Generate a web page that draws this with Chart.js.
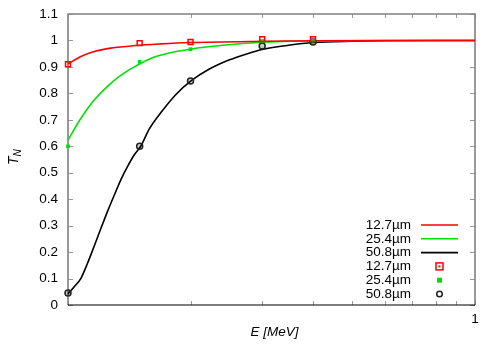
<!DOCTYPE html>
<html>
<head>
<meta charset="utf-8">
<script src="https://cdn.jsdelivr.net/npm/chart.js@4/dist/chart.umd.min.js"></script>
<style>
body { margin: 0; background: #fff; }
</style>
</head>
<body>
<canvas id="c" width="500" height="350"></canvas>
<script>
// measured points
var energies = [0.1, 0.15, 0.2, 0.3, 0.4];
var t127 = [0.91, 0.99, 0.994, 1.005, 1.005];
var t254 = [0.60, 0.919, 0.967, 0.998, 0.999];
var t508 = [0.045, 0.60, 0.847, 0.979, 0.994];

// fitted curves
var fitE127 = [0.1, 0.1076, 0.116, 0.1274, 0.1467, 0.169, 0.2, 0.3, 0.4, 0.6, 1.0];
var fit127 = [0.911, 0.939, 0.958, 0.971, 0.981, 0.987, 0.992, 0.997, 0.999, 1.0, 1.0];
var fitE254 = [0.1, 0.1076, 0.116, 0.1274, 0.14, 0.1467, 0.1643, 0.2, 0.2485, 0.3, 0.4, 0.6, 1.0];
var fit254 = [0.624, 0.706, 0.775, 0.838, 0.885, 0.903, 0.939, 0.967, 0.984, 0.993, 0.998, 1.0, 1.0];
var fitE508 = [0.1, 0.1036, 0.1076, 0.1117, 0.116, 0.1205, 0.125, 0.13, 0.135, 0.14, 0.1454, 0.151,
               0.1582, 0.1707, 0.1839, 0.2005, 0.222, 0.2485, 0.2783, 0.3, 0.3486, 0.4016, 0.5, 0.6, 0.8, 1.0];
var fit508 = [0.042, 0.069, 0.101, 0.158, 0.223, 0.29, 0.353, 0.416, 0.475, 0.523, 0.567, 0.601,
              0.664, 0.735, 0.795, 0.847, 0.891, 0.926, 0.952, 0.966, 0.982, 0.992, 0.997, 0.999, 1.0, 1.0];

var names = ['12.7µm', '25.4µm', '50.8µm'];
var colors = ['#ff0000', '#00e000', '#000000'];
var yTicks = [0, 0.1, 0.2, 0.3, 0.4, 0.5, 0.6, 0.7, 0.8, 0.9, 1.0, 1.1];
var xTicks = [0.1, 0.2, 0.3, 0.4, 0.5, 0.6, 0.7, 0.8, 0.9, 1];

var FONT = 'Liberation Sans, Arial, sans-serif';

function xy(xs, ys) {
    return xs.map(function(x, i) { return {x: x, y: ys[i]}; });
}

function curve(label, xs, ys, color) {
    return {
        label: label, data: xy(xs, ys), showLine: true,
        borderColor: color, borderWidth: 1.6, pointRadius: 0,
        cubicInterpolationMode: 'monotone', order: 2, clip: false
    };
}

var datasets = [
    curve(names[0], fitE127, fit127, colors[0]),
    curve(names[1], fitE254, fit254, colors[1]),
    curve(names[2], fitE508, fit508, colors[2]),
    { label: names[0], data: xy(energies, t127), showLine: false, pointStyle: 'rect',
      pointRadius: 3.5, borderWidth: 1.5, borderColor: colors[0], backgroundColor: 'rgba(255,255,255,0)',
      order: 1, clip: false },
    { label: names[1], data: xy(energies, t254), showLine: false, pointStyle: 'rect',
      pointRadius: 2.6, borderWidth: 0, borderColor: colors[1], backgroundColor: colors[1],
      order: 1, clip: false },
    { label: names[2], data: xy(energies, t508), showLine: false, pointStyle: 'circle',
      pointRadius: 3, borderWidth: 1.5, borderColor: '#222', backgroundColor: 'rgba(0,0,0,0.2)',
      order: 1, clip: false }
];

// gnuplot-like frame with inward ticks
var framePlugin = {
    id: 'frame',
    beforeDatasetsDraw: function(chart) {
        var ctx = chart.ctx, a = chart.chartArea;
        var xs = chart.scales.x, ys = chart.scales.y;
        ctx.save();
        ctx.strokeStyle = '#999';
        ctx.lineWidth = 1;
        yTicks.forEach(function(v) {
            var y = Math.round(ys.getPixelForValue(v)) + 0.5;
            ctx.beginPath();
            ctx.moveTo(a.left, y); ctx.lineTo(a.left + 5, y);
            ctx.moveTo(a.right, y); ctx.lineTo(a.right - 5, y);
            ctx.stroke();
        });
        xTicks.forEach(function(v) {
            var x = Math.round(xs.getPixelForValue(v)) + 0.5;
            ctx.beginPath();
            ctx.moveTo(x, a.top); ctx.lineTo(x, a.top + 4);
            ctx.moveTo(x, a.bottom); ctx.lineTo(x, a.bottom - 4);
            ctx.stroke();
        });
        ctx.strokeStyle = '#808080';
        ctx.lineWidth = 1.6;
        ctx.beginPath();
        ctx.moveTo(a.left, a.bottom); ctx.lineTo(a.left, a.top);
        ctx.lineTo(a.right, a.top); ctx.lineTo(a.right, a.bottom);
        ctx.stroke();
        ctx.strokeStyle = '#000';
        ctx.lineWidth = 1.2;
        ctx.beginPath();
        ctx.moveTo(a.left, a.bottom); ctx.lineTo(a.right, a.bottom);
        ctx.stroke();
        ctx.restore();
    },
    afterDraw: function(chart) {
        var ctx = chart.ctx, a = chart.chartArea;
        ctx.save();
        ctx.fillStyle = '#000';
        // axis titles
        ctx.font = 'italic 13.5px ' + FONT;
        ctx.textAlign = 'center';
        ctx.textBaseline = 'middle';
        ctx.fillText('E [MeV]', (a.left + a.right) / 2 + 3, 332);
        ctx.translate(14, 158);
        ctx.rotate(-Math.PI / 2);
        ctx.textAlign = 'left';
        ctx.font = 'italic 14px ' + FONT;
        ctx.fillText('T', -7, 0);
        ctx.font = 'italic 10px ' + FONT;
        ctx.fillText('N', 1.5, 4);
        ctx.setTransform(1, 0, 0, 1, 0, 0);

        // legend
        ctx.font = '13.5px ' + FONT;
        ctx.textAlign = 'right';
        for (var i = 0; i < 6; i++) {
            var y = 225 + i * 13.8;
            var k = i % 3;
            ctx.fillStyle = '#000';
            ctx.fillText(names[k], 411, y);
            if (i < 3) {
                ctx.strokeStyle = colors[k];
                ctx.lineWidth = 1.6;
                ctx.beginPath();
                ctx.moveTo(421, y); ctx.lineTo(458, y);
                ctx.stroke();
            } else if (k === 0) {
                ctx.strokeStyle = colors[0];
                ctx.lineWidth = 1.5;
                ctx.strokeRect(436, y - 3.5, 7, 7);
                ctx.fillStyle = colors[0];
                ctx.fillRect(438.5, y - 1, 2, 2);
            } else if (k === 1) {
                ctx.fillStyle = colors[1];
                ctx.fillRect(437, y - 2.5, 5, 5);
            } else {
                ctx.strokeStyle = '#222';
                ctx.lineWidth = 1.5;
                ctx.beginPath();
                ctx.arc(439.5, y, 2.8, 0, Math.PI * 2);
                ctx.stroke();
            }
        }
        ctx.restore();
    }
};

new Chart(document.getElementById('c'), {
    type: 'scatter',
    data: { datasets: datasets },
    options: {
        responsive: false,
        animation: false,
        layout: { padding: { left: 0, right: 25, top: 14, bottom: 0 } },
        plugins: { legend: { display: false }, tooltip: { enabled: false } },
        scales: {
            x: {
                type: 'logarithmic', min: 0.1, max: 1,
                afterBuildTicks: function(s) { s.ticks = xTicks.map(function(v) { return {value: v}; }); },
                afterFit: function(s) { s.height = 45; s.paddingLeft = 0; s.paddingRight = 0; },
                grid: { display: false, drawTicks: false },
                border: { display: false },
                ticks: {
                    autoSkip: false, maxRotation: 0, padding: 6, color: '#000',
                    font: { family: FONT, size: 13.5 },
                    callback: function(v) { return v === 1 ? '1' : ''; }
                }
            },
            y: {
                type: 'linear', min: 0, max: 1.1,
                afterBuildTicks: function(s) { s.ticks = yTicks.map(function(v) { return {value: v}; }); },
                afterFit: function(s) { s.width = 68; s.paddingTop = 0; s.paddingBottom = 0; },
                grid: { display: false, drawTicks: false },
                border: { display: false },
                ticks: {
                    padding: 10, color: '#000',
                    font: { family: FONT, size: 13.5 },
                    callback: function(v) { return String(Number(v.toFixed(1))); }
                }
            }
        }
    },
    plugins: [framePlugin]
});
</script>
</body>
</html>
